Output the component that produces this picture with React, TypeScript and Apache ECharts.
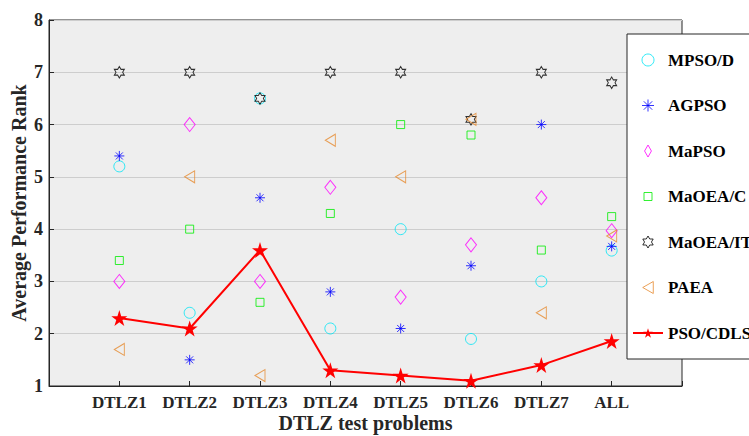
import React, { useEffect, useRef } from "react";
import * as echarts from "echarts";

const categories = ["DTLZ1", "DTLZ2", "DTLZ3", "DTLZ4", "DTLZ5", "DTLZ6", "DTLZ7", "ALL"];
const mpsoD = [5.2, 2.4, 6.5, 2.1, 4.0, 1.9, 3.0, 3.59];
const agpso = [5.4, 1.5, 4.6, 2.8, 2.1, 3.3, 6.0, 3.67];
const mapso = [3.0, 6.0, 3.0, 4.8, 2.7, 3.7, 4.6, 3.97];
const maoeaC = [3.4, 4.0, 2.6, 4.3, 6.0, 5.8, 3.6, 4.24];
const maoeaIT = [7.0, 7.0, 6.5, 7.0, 7.0, 6.1, 7.0, 6.8];
const paea = [1.7, 5.0, 1.2, 5.7, 5.0, 6.1, 2.4, 3.87];
const psoCdls = [2.3, 2.1, 3.6, 1.3, 1.2, 1.1, 1.4, 1.86];
const yMin = 1;
const yMax = 8;

const FONT = "'Liberation Serif', 'Times New Roman', serif";

const HEXAGRAM =
  "path://M0,-100 L28.87,-50 L86.6,-50 L57.7,0 L86.6,50 L28.87,50 L0,100 L-28.87,50 L-86.6,50 L-57.7,0 L-86.6,-50 L-28.87,-50 Z";
const PENTAGRAM =
  "path://M0,-100 L22.45,-30.9 L95.1,-30.9 L36.33,11.8 L58.78,80.9 L0,38.2 L-58.78,80.9 L-36.33,11.8 L-95.1,-30.9 L-22.45,-30.9 Z";
const ASTERISK = "path://M0,-50 L0,50 M-50,0 L50,0 M-35,-35 L35,35 M-35,35 L35,-35";
const TRI_LEFT = "path://M0,50 L88,0 L88,100 Z";
const DIAMOND = "path://M40,0 L80,70 L40,140 L0,70 Z";
const SQUARE = "path://M0,0 L10,0 L10,10 L0,10 Z";
const SQUARE_LEGEND = "path://M-2.5,-2.5 M12.5,12.5 M0,0 L10,0 L10,10 L0,10 Z";

const toPoints = (vals: number[]) => vals.map((v, i) => [i + 1, v]);

function scatter(name: string, vals: number[], symbol: string, size: any, color: string) {
  return {
    name,
    type: "scatter",
    data: toPoints(vals),
    symbol,
    symbolSize: size,
    itemStyle: { color: "rgba(0,0,0,0)", borderColor: color, borderWidth: 1 },
    emphasis: { disabled: true },
    z: 3,
  };
}

export default function App() {
  const ref = useRef<HTMLDivElement>(null);
  useEffect(() => {
    if (!ref.current) return;
    const chart = echarts.init(ref.current, undefined, { renderer: "svg" });
    chart.setOption({
      animation: false,
      backgroundColor: "#ffffff",
      grid: {
        left: 49,
        right: 67,
        top: 20,
        bottom: 50,
        show: true,
        backgroundColor: "#eeeeee",
        borderColor: "#262626",
        borderWidth: 1,
        containLabel: false,
        outerBoundsMode: "none",
      },
      xAxis: {
        type: "value",
        min: 0,
        max: 9,
        interval: 1,
        name: "DTLZ test problems",
        nameLocation: "middle",
        nameGap: 27,
        nameMoveOverlap: false,
        nameTextStyle: { fontFamily: FONT, fontWeight: "bold", fontSize: 20, color: "#262626" },
        axisLine: { show: true, lineStyle: { color: "#262626", width: 1 } },
        axisTick: { show: true, inside: true, length: 5, lineStyle: { color: "#262626" } },
        axisLabel: {
          fontFamily: FONT,
          fontWeight: "bold",
          fontSize: 17,
          color: "#262626",
          margin: 8,
          formatter: (v: number) => (v >= 1 && v <= categories.length ? categories[v - 1] : ""),
        },
        splitLine: { show: false },
      },
      yAxis: {
        type: "value",
        min: yMin,
        max: yMax,
        interval: 1,
        name: "Average Performance Rank",
        nameLocation: "middle",
        nameGap: 20,
        nameMoveOverlap: false,
        nameTextStyle: { fontFamily: FONT, fontWeight: "bold", fontSize: 20, color: "#262626" },
        axisLine: { show: true, lineStyle: { color: "#262626", width: 1 } },
        axisTick: { show: true, inside: true, length: 5, lineStyle: { color: "#262626" } },
        axisLabel: { fontFamily: FONT, fontWeight: "bold", fontSize: 18, color: "#262626", margin: 6 },
        splitLine: { show: true, lineStyle: { color: "#cdcdcd", width: 1 } },
      },
      legend: {
        orient: "vertical",
        left: 627,
        top: 34,
        padding: [16, 60, 16, 5],
        itemGap: 25.5,
        itemWidth: 30,
        itemHeight: 12,
        backgroundColor: "#ffffff",
        borderColor: "#262626",
        borderWidth: 1,
        borderRadius: 0,
        selectedMode: false,
        symbolKeepAspect: true,
        itemStyle: { borderWidth: 1 },
        textStyle: { fontFamily: FONT, fontWeight: "bold", fontSize: 17, color: "#000000", lineHeight: 20 },
        data: [
          { name: "MPSO/D" },
          { name: "AGPSO" },
          { name: "MaPSO" },
          { name: "MaOEA/C", icon: SQUARE_LEGEND },
          { name: "MaOEA/IT" },
          { name: "PAEA" },
          { name: "PSO/CDLS" },
        ],
      },
      series: [
        scatter("MPSO/D", mpsoD, "circle", 11, "#00e5f5"),
        scatter("AGPSO", agpso, ASTERISK, 10, "#0000ff"),
        scatter("MaPSO", mapso, DIAMOND, [11, 14], "#ff00ff"),
        scatter("MaOEA/C", maoeaC, SQUARE, 8, "#00ee00"),
        scatter("MaOEA/IT", maoeaIT, HEXAGRAM, [10, 11.5], "#000000"),
        scatter("PAEA", paea, TRI_LEFT, [10, 12], "#e68a2e"),
        {
          name: "PSO/CDLS",
          type: "line",
          data: toPoints(psoCdls),
          symbol: PENTAGRAM,
          symbolSize: 16,
          showSymbol: true,
          lineStyle: { color: "#ff0000", width: 2 },
          itemStyle: { color: "#ff0000" },
          emphasis: { disabled: true },
          z: 4,
        },
      ],
    });
    return () => chart.dispose();
  }, []);
  return <div ref={ref} style={{ width: 749, height: 436, position: "absolute", left: 0, top: 0 }} />;
}
